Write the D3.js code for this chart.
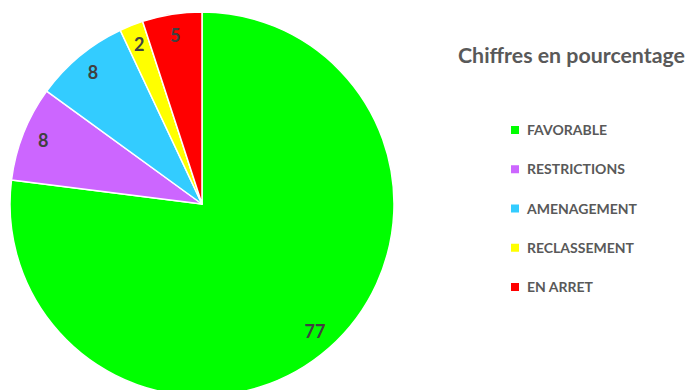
<!DOCTYPE html>
<html>
<head>
<meta charset="utf-8">
<script src="https://cdn.jsdelivr.net/npm/d3@7"></script>
<style>
  html, body { margin: 0; padding: 0; background: #fff; }
  svg { display: block; font-family: Lato, "Open Sans", sans-serif; }
</style>
</head>
<body>
<svg id="chart" width="688" height="390"></svg>
<script>
// Répartition des avis (en %)
const categories = ["FAVORABLE", "RESTRICTIONS", "AMENAGEMENT", "RECLASSEMENT", "EN ARRET"];
const values = [77, 8, 8, 2, 5];
const colors = ["#00FF00", "#CC66FF", "#33CCFF", "#FFFF00", "#FF0000"];
const title = "Chiffres en pourcentage";

const svg = d3.select("#chart");
const cx = 202, cy = 204, radius = 192;

const data = categories.map((c, i) => ({ name: c, value: values[i], color: colors[i] }));

const pie = d3.pie().value(d => d.value).sort(null);
const arcs = pie(data);
const arc = d3.arc().innerRadius(0).outerRadius(radius);
const labelArc = d3.arc().innerRadius(radius * 0.89).outerRadius(radius * 0.89);

const g = svg.append("g").attr("transform", `translate(${cx},${cy})`);

g.selectAll("path.slice")
  .data(arcs)
  .join("path")
  .attr("class", "slice")
  .attr("d", arc)
  .attr("fill", d => d.data.color)
  .attr("stroke", "#fff")
  .attr("stroke-width", 1.5)
  .attr("stroke-linejoin", "round");

g.selectAll("text.val")
  .data(arcs)
  .join("text")
  .attr("class", "val")
  .attr("transform", d => {
    const [x, y] = labelArc.centroid(d);
    return `translate(${x},${y})`;
  })
  .attr("text-anchor", "middle")
  .attr("dy", "0.35em")
  .attr("font-size", 18)
  .attr("font-weight", "bold")
  .attr("fill", "#404040")
  .text(d => d.data.value);

// Titre
svg.append("text")
  .attr("x", 458)
  .attr("y", 63)
  .attr("font-size", 20.5)
  .attr("font-weight", "bold")
  .attr("fill", "#595959")
  .attr("textLength", 227)
  .attr("lengthAdjust", "spacingAndGlyphs")
  .text(title);

// Légende
const legendY = d3.scalePoint().domain(categories).range([130, 287]);
const legend = svg.append("g");
const items = legend.selectAll("g.item")
  .data(data)
  .join("g")
  .attr("class", "item")
  .attr("transform", d => `translate(511,${legendY(d.name)})`);

items.append("rect")
  .attr("x", 0)
  .attr("y", -4)
  .attr("width", 8)
  .attr("height", 8)
  .attr("fill", d => d.color);

items.append("text")
  .attr("x", 16)
  .attr("dy", "0.36em")
  .attr("font-size", 14)
  .attr("font-weight", "bold")
  .attr("fill", "#595959")
  .text(d => d.name);
</script>
</body>
</html>
